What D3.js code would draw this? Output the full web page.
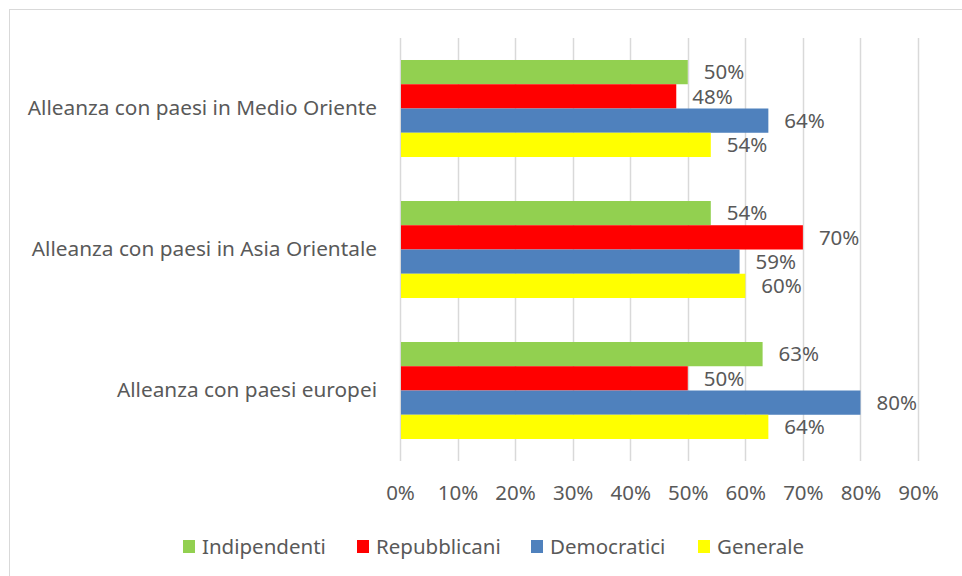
<!DOCTYPE html>
<html>
<head>
<meta charset="utf-8">
<script src="https://cdn.jsdelivr.net/npm/d3@7"></script>
<style>
  body { margin: 0; background: #fff; }
  svg { display: block; font-family: "Noto Sans", "Open Sans", sans-serif; }
</style>
</head>
<body>
<svg id="chart" width="962" height="576"></svg>
<script>
// categories top to bottom
const categories = [
  "Alleanza con paesi in Medio Oriente",
  "Alleanza con paesi in Asia Orientale",
  "Alleanza con paesi europei"
];
const seriesNames = ["Indipendenti", "Repubblicani", "Democratici", "Generale"];
const seriesColors = ["#92D050", "#FF0000", "#4F81BD", "#FFFF00"];

// values per series, same order as categories
const indipendenti = [0.50, 0.54, 0.63];
const repubblicani = [0.48, 0.70, 0.50];
const democratici = [0.64, 0.59, 0.80];
const generale = [0.54, 0.60, 0.64];
const tickValues = [0, 0.1, 0.2, 0.3, 0.4, 0.5, 0.6, 0.7, 0.8, 0.9];

const seriesValues = [indipendenti, repubblicani, democratici, generale];
const textColor = "#595959";
const gridColor = "#D9D9D9";
const fontSize = "20.5px";

const svg = d3.select("#chart");

// chart border (only top/left visible in the frame)
svg.append("rect")
  .attr("x", 9.5).attr("y", 9.5)
  .attr("width", 1000).attr("height", 1000)
  .attr("fill", "none")
  .attr("stroke", gridColor);

const x = d3.scaleLinear().domain([0, 0.9]).range([400, 918]);
const y = d3.scaleBand().domain(categories).range([38, 461]).paddingInner(0.312).paddingOuter(0.156);
const ySub = d3.scaleBand().domain(seriesNames).range([0, y.bandwidth()]);

// gridlines
svg.append("g")
  .selectAll("line")
  .data(tickValues)
  .join("line")
    .attr("x1", d => Math.round(x(d)) + 0.5)
    .attr("x2", d => Math.round(x(d)) + 0.5)
    .attr("y1", 38)
    .attr("y2", 461)
    .attr("stroke", gridColor)
    .attr("stroke-width", 1.5);

// x axis labels
const xAxis = d3.axisBottom(x)
  .tickValues(tickValues)
  .tickFormat(d3.format(".0%"))
  .tickSize(0)
  .tickPadding(0);
const gx = svg.append("g")
  .attr("transform", "translate(0, 485)")
  .call(xAxis);
gx.select(".domain").remove();
gx.selectAll("text")
  .attr("fill", textColor)
  .style("font-size", fontSize)
  .style("font-family", "'Noto Sans', sans-serif");

// category labels
const yAxis = d3.axisLeft(y).tickSize(0).tickPadding(23);
const gy = svg.append("g")
  .attr("transform", "translate(400, 0)")
  .call(yAxis);
gy.select(".domain").remove();
gy.selectAll("text")
  .attr("fill", textColor)
  .style("font-size", "20.8px")
  .style("font-family", "'Noto Sans', sans-serif");

// bars
const rows = [];
categories.forEach((c, ci) => {
  seriesNames.forEach((s, si) => {
    rows.push({ cat: c, series: s, color: seriesColors[si], value: seriesValues[si][ci] });
  });
});

const bars = svg.append("g");
bars.selectAll("rect")
  .data(rows)
  .join("rect")
    .attr("x", x(0) + 1)
    .attr("y", d => y(d.cat) + ySub(d.series))
    .attr("width", d => x(d.value) - x(0) - 1)
    .attr("height", ySub.bandwidth())
    .attr("fill", d => d.color);

// value labels
svg.append("g")
  .selectAll("text")
  .data(rows)
  .join("text")
    .attr("x", d => x(d.value) + 16)
    .attr("y", d => y(d.cat) + ySub(d.series) + ySub.bandwidth() / 2)
    .attr("dy", "0.35em")
    .attr("fill", textColor)
    .style("font-size", fontSize)
    .text(d => d3.format(".0%")(d.value));

// legend
const legendX = [183, 357, 531, 698];
const legend = svg.append("g");
seriesNames.forEach((s, i) => {
  legend.append("rect")
    .attr("x", legendX[i]).attr("y", 540)
    .attr("width", 12).attr("height", 13)
    .attr("fill", seriesColors[i]);
  legend.append("text")
    .attr("x", legendX[i] + 19).attr("y", 546.5)
    .attr("dy", "0.35em")
    .attr("fill", textColor)
    .style("font-size", fontSize)
    .text(s);
});
</script>
</body>
</html>
